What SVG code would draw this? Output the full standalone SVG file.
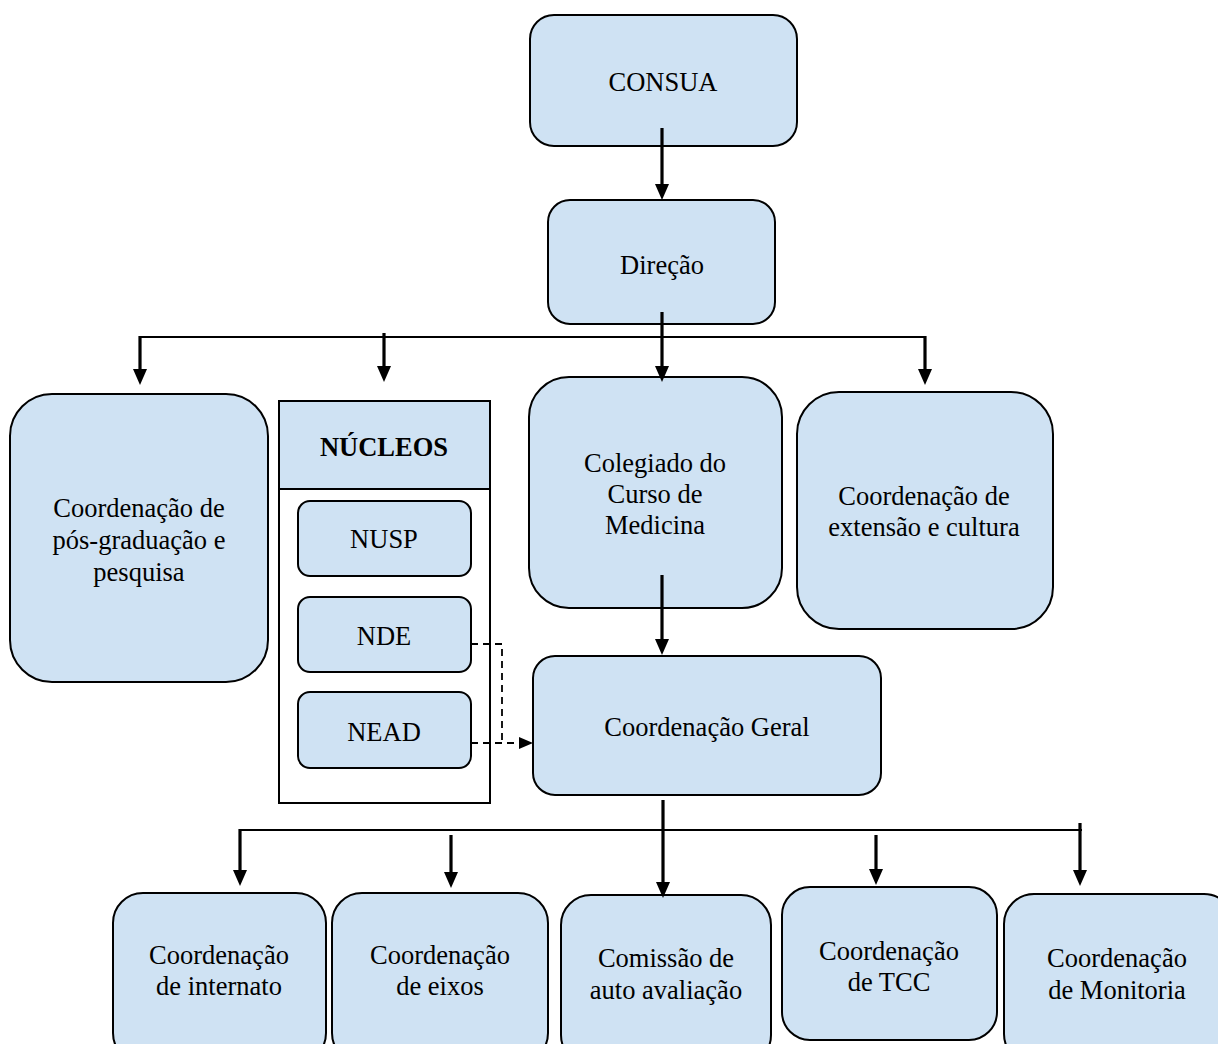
<svg xmlns="http://www.w3.org/2000/svg" width="1218" height="1044" viewBox="0 0 1218 1044">
<style>
.box{fill:#cfe2f3;stroke:#000;stroke-width:2}
.plain{fill:#fff;stroke:#000;stroke-width:2}
.t{font-family:"Liberation Serif","Times New Roman",serif;font-size:26.5px;fill:#000;text-anchor:middle}
.b{font-weight:bold}
.arr{stroke:#000;stroke-width:3.2;fill:none;marker-end:url(#ah)}
.bus{stroke:#000;stroke-width:2;fill:none}
.dash{stroke:#000;stroke-width:1.8;fill:none;stroke-dasharray:7,5}
.darr{stroke:#000;stroke-width:1.8;fill:none;stroke-dasharray:7,5;marker-end:url(#dh)}
</style>
<defs>
<marker id="ah" viewBox="0 0 16 14" refX="6" refY="7" markerWidth="16" markerHeight="14" markerUnits="userSpaceOnUse" orient="auto">
<path d="M0,0 L16,7 L0,14 z" fill="#000"/>
</marker>
<marker id="dh" viewBox="0 0 14 12" refX="4" refY="6" markerWidth="14" markerHeight="12" markerUnits="userSpaceOnUse" orient="auto">
<path d="M0,0 L14,6 L0,12 z" fill="#000"/>
</marker>
</defs>
<rect width="1218" height="1044" fill="#fff"/>

<g id="consua"><rect class="box" x="530" y="15" width="267" height="131" rx="24"/><text class="t" x="663" y="91">CONSUA</text></g>
<g id="direcao"><rect class="box" x="548" y="200" width="227" height="124" rx="22"/><text class="t" x="662" y="274">Direção</text></g>
<g id="posgrad"><rect class="box" x="10" y="394" width="258" height="288" rx="42"/>
<text class="t" x="139" y="517">Coordenação de</text><text class="t" x="139" y="549">pós-graduação e</text><text class="t" x="139" y="581">pesquisa</text></g>
<g id="nucleos">
<rect class="plain" x="279" y="401" width="211" height="402"/>
<rect class="box" x="279" y="401" width="211" height="88"/>
<text class="t b" x="384" y="456">NÚCLEOS</text>
</g>
<g id="nusp"><rect class="box" x="298" y="501" width="173" height="75" rx="12"/><text class="t" x="384" y="548">NUSP</text></g>
<g id="nde"><rect class="box" x="298" y="597" width="173" height="75" rx="12"/><text class="t" x="384" y="645">NDE</text></g>
<g id="nead"><rect class="box" x="298" y="692" width="173" height="76" rx="12"/><text class="t" x="384" y="741">NEAD</text></g>
<g id="colegiado"><rect class="box" x="529" y="377" width="253" height="231" rx="40"/>
<text class="t" x="655" y="472">Colegiado do</text><text class="t" x="655" y="503">Curso de</text><text class="t" x="655" y="534">Medicina</text></g>
<g id="extensao"><rect class="box" x="797" y="392" width="256" height="237" rx="42"/>
<text class="t" x="924" y="505">Coordenação de</text><text class="t" x="924" y="536">extensão e cultura</text></g>
<g id="geral"><rect class="box" x="533" y="656" width="348" height="139" rx="22"/><text class="t" x="707" y="736">Coordenação Geral</text></g>
<g id="internato"><rect class="box" x="113" y="893" width="213" height="170" rx="30"/>
<text class="t" x="219" y="964">Coordenação</text><text class="t" x="219" y="995">de internato</text></g>
<g id="eixos"><rect class="box" x="332" y="893" width="216" height="170" rx="30"/>
<text class="t" x="440" y="964">Coordenação</text><text class="t" x="440" y="995">de eixos</text></g>
<g id="comissao"><rect class="box" x="561" y="895" width="210" height="170" rx="30"/>
<text class="t" x="666" y="967">Comissão de</text><text class="t" x="666" y="999">auto avaliação</text></g>
<g id="tcc"><rect class="box" x="782" y="887" width="215" height="153" rx="28"/>
<text class="t" x="889" y="960">Coordenação</text><text class="t" x="889" y="991">de TCC</text></g>
<g id="monitoria"><rect class="box" x="1004" y="894" width="230" height="170" rx="30"/>
<text class="t" x="1117" y="967">Coordenação</text><text class="t" x="1117" y="999">de Monitoria</text></g>

<g id="connectors">
<line class="arr" x1="662" y1="128" x2="662" y2="190"/>
<line class="arr" x1="662" y1="312" x2="662" y2="372"/>
<polyline class="bus" points="140,337 925,337"/>
<line class="arr" x1="140" y1="336" x2="140" y2="375"/>
<line class="arr" x1="384" y1="333" x2="384" y2="372"/>
<line class="arr" x1="925" y1="336" x2="925" y2="375"/>
<line class="arr" x1="662" y1="575" x2="662" y2="645"/>
<line class="arr" x1="663" y1="800" x2="663" y2="888"/>
<polyline class="bus" points="240,830 1082,830"/>
<line class="arr" x1="240" y1="829" x2="240" y2="876"/>
<line class="arr" x1="451" y1="835" x2="451" y2="878"/>
<line class="arr" x1="876" y1="835" x2="876" y2="875"/>
<line class="arr" x1="1080" y1="823" x2="1080" y2="876"/>
<polyline class="dash" points="471,644 502,644 502,743"/>
<line class="darr" x1="471" y1="743" x2="523" y2="743"/>
</g>
</svg>
